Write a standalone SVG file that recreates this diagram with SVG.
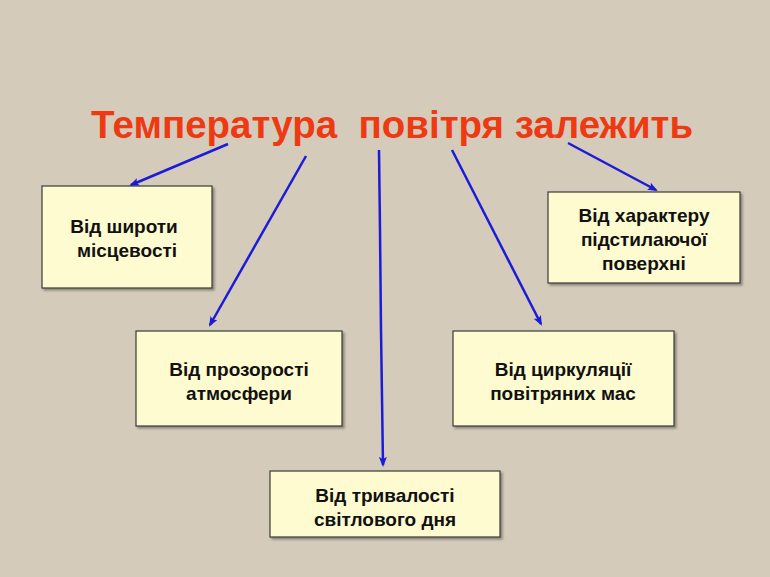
<svg xmlns="http://www.w3.org/2000/svg" width="770" height="577" viewBox="0 0 770 577">
<defs>
<style>
.bx{fill:#fdfbcf;stroke:#3a3a3a;stroke-width:1.2}
.t{font-family:"Liberation Sans",Arial,sans-serif;font-weight:bold;font-size:19px;fill:#111;text-anchor:middle}
.c{stroke:#1c1cd8;stroke-width:2.5;fill:none;marker-end:url(#ah)}
</style>
<marker id="ah" markerWidth="10" markerHeight="8" refX="8" refY="4" orient="auto" markerUnits="userSpaceOnUse">
<path d="M0,0 L10,4 L0,8 L2,4 Z" fill="#1c1cd8"/>
</marker>
<filter id="sh" x="-5%" y="-5%" width="115%" height="120%">
<feDropShadow dx="2" dy="2" stdDeviation="1" flood-color="#000" flood-opacity="0.35"/>
</filter>
</defs>
<rect width="770" height="577" fill="#d5cbbb"/>
<text x="392" y="138" font-family="'Liberation Sans',Arial,sans-serif" font-weight="bold" font-size="38.5" fill="#ee3a12" text-anchor="middle" xml:space="preserve">Температура  повітря залежить</text>
<g id="connectors">
<line class="c" x1="228" y1="144" x2="131" y2="185"/>
<line class="c" x1="306" y1="156" x2="210" y2="325"/>
<polyline class="c" points="379,150 380,230 381,330 383,465"/>
<line class="c" x1="452" y1="150" x2="541" y2="324"/>
<line class="c" x1="568" y1="143" x2="656" y2="190"/>
</g>
<g id="n1">
<rect class="bx" x="42" y="186" width="170" height="102" filter="url(#sh)"/>
<text class="t" x="124" y="233">Від широти</text>
<text class="t" x="127" y="257">місцевості</text>
</g>
<g id="n2">
<rect class="bx" x="136" y="331" width="206" height="95" filter="url(#sh)"/>
<text class="t" x="239" y="376">Від прозорості</text>
<text class="t" x="239" y="400">атмосфери</text>
</g>
<g id="n3">
<rect class="bx" x="453" y="331" width="221" height="95" filter="url(#sh)"/>
<text class="t" x="563" y="376">Від циркуляції</text>
<text class="t" x="563" y="400">повітряних мас</text>
</g>
<g id="n4">
<rect class="bx" x="270" y="471" width="230" height="66" filter="url(#sh)"/>
<text class="t" x="385" y="502">Від тривалості</text>
<text class="t" x="385" y="526">світлового дня</text>
</g>
<g id="n5">
<rect class="bx" x="548" y="192" width="192" height="91" filter="url(#sh)"/>
<text class="t" x="644" y="222">Від характеру</text>
<text class="t" x="644" y="246">підстилаючої</text>
<text class="t" x="644" y="270">поверхні</text>
</g>
</svg>
